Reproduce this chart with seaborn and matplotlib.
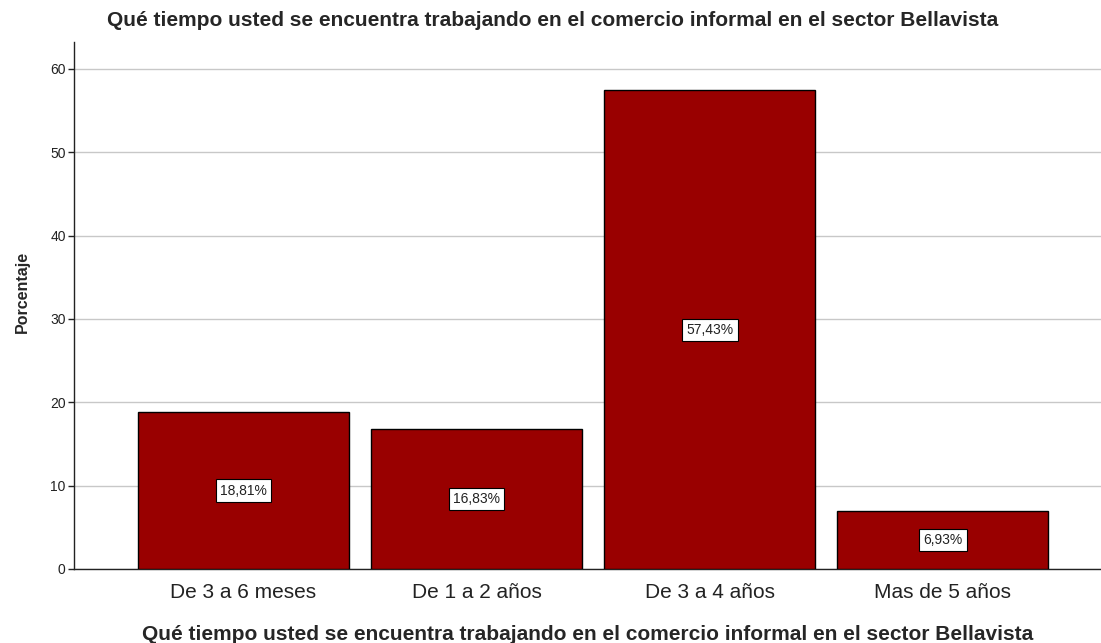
import pandas as pd
import seaborn as sns
import matplotlib.pyplot as plt

# datos del gráfico
categorias = ['De 3 a 6 meses', 'De 1 a 2 años', 'De 3 a 4 años', 'Mas de 5 años']
porcentajes = [18.81, 16.83, 57.43, 6.93]
yticks = [0, 10, 20, 30, 40, 50, 60]
titulo = 'Qué tiempo usted se encuentra trabajando en el comercio informal en el sector Bellavista'

df = pd.DataFrame({'categoria': categorias, 'porcentaje': porcentajes})

sns.set_theme(style="white")
plt.rcParams['font.family'] = ['Liberation Sans', 'DejaVu Sans']

fig = plt.figure(figsize=(11.01, 6.43), dpi=100)
ax = fig.add_axes([74 / 1101, 1 - 569 / 643, (1101 - 74) / 1101, (569 - 42) / 643])

sns.barplot(data=df, x='categoria', y='porcentaje', color='#990000', saturation=1,
            width=0.905, edgecolor='black', linewidth=1, ax=ax, zorder=3)

# etiquetas centradas en cada barra
for i, v in enumerate(porcentajes):
    ax.text(i, v / 2, f'{v:.2f}%'.replace('.', ','), ha='center', va='center', fontsize=10,
            color='#222222', zorder=5,
            bbox=dict(boxstyle='square,pad=0.3', facecolor='white', edgecolor='black', linewidth=0.8))

ax.set_xlim(-0.727, 3.678)
ax.set_ylim(0, 63.24)
ax.set_yticks(yticks)
ax.grid(axis='y', color='#c8c8c8', linewidth=1, zorder=0)
ax.set_axisbelow(True)

for s in ['top', 'right']:
    ax.spines[s].set_visible(False)
for s in ['left', 'bottom']:
    ax.spines[s].set_color('#222222')
    ax.spines[s].set_linewidth(1)

ax.tick_params(axis='y', left=True, length=4, width=1, color='#222222', labelsize=10,
               labelcolor='#222222', pad=2)
ax.tick_params(axis='x', bottom=False, labelsize=15, labelcolor='#222222', pad=4)

ax.set_ylabel('Porcentaje', fontsize=11.5, fontweight='bold')
ax.yaxis.set_label_coords(-0.043, 0.526)
ax.set_xlabel(titulo, fontsize=15, fontweight='bold', labelpad=17)

fig.text(553 / 1101, 1 - 20 / 643, titulo, ha='center', va='center', fontsize=15, fontweight='bold')

fig.savefig('out.png', dpi=100)
